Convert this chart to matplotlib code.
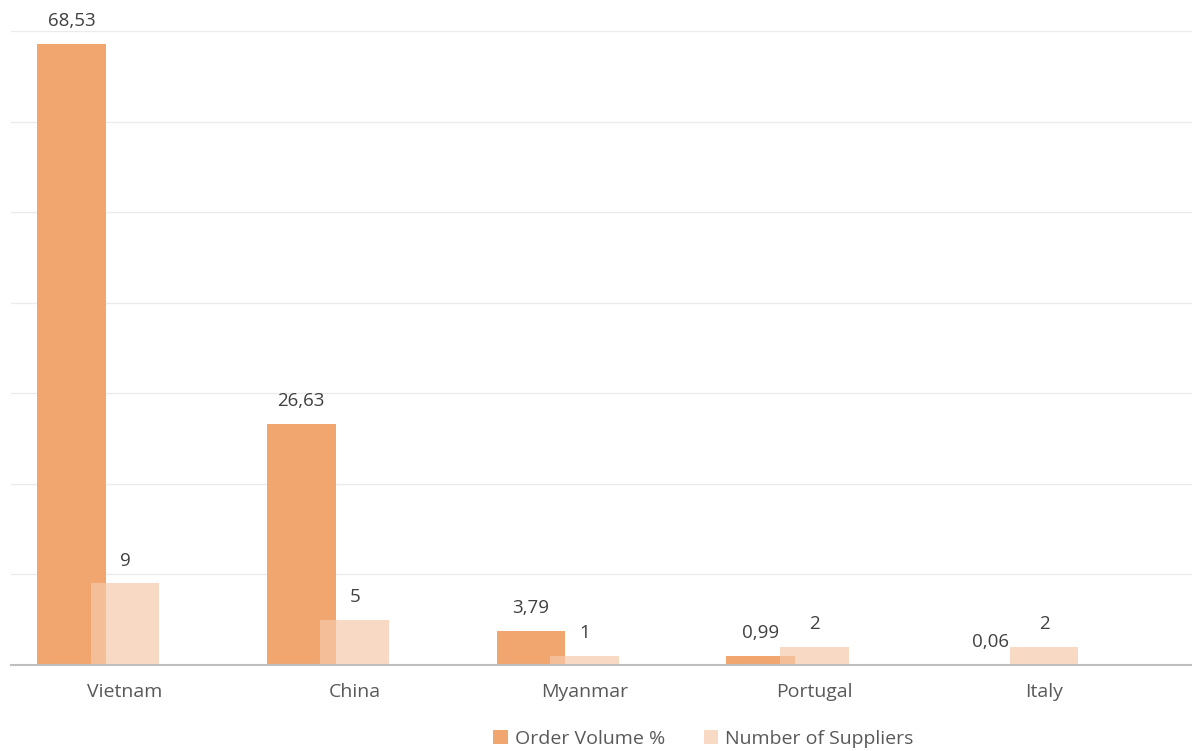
import numpy as np
import matplotlib
matplotlib.use('Agg')
from matplotlib import pyplot as plt

countries = ['Vietnam', 'China', 'Myanmar', 'Portugal', 'Italy']
order_volume = [68.53, 26.63, 3.79, 0.99, 0.06]
suppliers = [9, 5, 1, 2, 2]
order_labels = ['68,53', '26,63', '3,79', '0,99', '0,06']
supplier_labels = ['9', '5', '1', '2', '2']

plt.rcParams['font.family'] = ['Open Sans', 'DejaVu Sans']

fig = plt.figure(figsize=(11.92, 7.51), dpi=100)
ax = fig.add_axes([11/1192, 86/751, 1 - 11/1192, (665-31)/751])

x = np.arange(len(countries))
w = 0.30
off = 0.233

ax.bar(x - off, order_volume, w, color='#F1A56F', label='Order Volume %', zorder=2)
ax.bar(x, suppliers, w, color='#F6C9AA', alpha=0.7, label='Number of Suppliers', zorder=3)

for xi, v, t in zip(x - off, order_volume, order_labels):
    ax.annotate(t, (xi, v), xytext=(0, 10), textcoords='offset points',
                ha='center', va='bottom', fontsize=13.5, color='#404040', annotation_clip=False)
for xi, v, t in zip(x, suppliers, supplier_labels):
    ax.annotate(t, (xi, v), xytext=(0, 10), textcoords='offset points',
                ha='center', va='bottom', fontsize=13.5, color='#404040', annotation_clip=False)

ax.set_xlim((11-125)/229.75, (1192-125)/229.75)
ax.set_ylim(0, 70)
ax.set_yticks(np.arange(0, 71, 10))
ax.set_yticklabels([])
ax.tick_params(axis='y', length=0)
ax.set_xticks(x)
ax.set_xticklabels(countries, fontsize=14, color='#595959')
ax.tick_params(axis='x', length=0, pad=13)
ax.grid(axis='y', color='#EBEBEB', linewidth=1, zorder=0)
ax.set_axisbelow(True)
for s in ['top', 'right', 'left']:
    ax.spines[s].set_visible(False)
ax.spines['bottom'].set_color('#BFBFBF')
ax.spines['bottom'].set_linewidth(1.5)
ax.spines['bottom'].set_zorder(4)

fig.legend(loc='lower center', bbox_to_anchor=(0.59, -0.019), ncol=2, frameon=False,
           fontsize=14, labelcolor='#595959', handlelength=0.75, handleheight=0.75,
           handletextpad=0.35, columnspacing=2.0)

fig.savefig('out.png', dpi=100)
